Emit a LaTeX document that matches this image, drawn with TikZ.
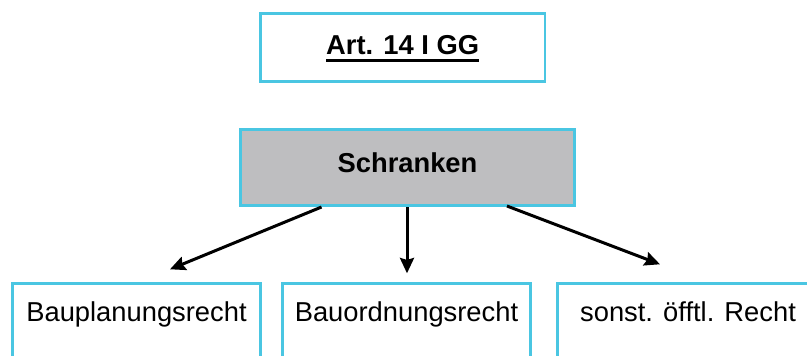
\documentclass[tikz,border=0pt]{standalone}
\usepackage{fontspec}
\setmainfont{Liberation Sans}
\usepackage{tikz}
\usepackage{xcolor}
\usetikzlibrary{arrows.meta,calc}
\definecolor{rahmen}{RGB}{74,198,226}
\definecolor{grau}{RGB}{190,190,192}
\tikzstyle{arr}=[-{Stealth[length=11.5pt,width=10.5pt,inset=1.5pt]},line width=2.25pt]
\newcommand{\ulbold}[1]{\setbox0\hbox{#1}\rlap{\rule[-5.2pt]{\wd0}{2pt}}\box0}

\begin{document}
\begin{tikzpicture}[x=0.75pt,y=0.75pt]
  \tikzstyle kasten=[draw=rahmen,line width=2pt,font=\fontsize{20.5}{24}\selectfont,text height=15pt];
  \tikzstyle unten=[kasten,anchor=north,inner ysep=13.3pt,text depth=45pt];
  \def\h{356}
  \clip (0,0) rectangle (807,\h);

  % upper boxes
  \node[kasten,text depth=3.75pt,minimum width=213.5pt,minimum height=51.3pt]
    (art) at (402.6,\h-47.5) {\bfseries\ulbold{Art. 14 I GG}};
  \node[kasten,fill=grau,text depth=6.75pt,minimum width=250.8pt,minimum height=57.3pt]
    (schr) at (407.5,\h-167.5) {\bfseries Schranken};

  % lower boxes
  \node[unten,minimum width=186.3pt] (bpl) at (136.5,\h-282.3) {Bauplanungsrecht};
  \node[unten,minimum width=186.3pt] (bord) at (406.5,\h-282.3) {Bauordnungsrecht};
  \node[unten,minimum width=196pt] (sonst) at (688,\h-282.3) {sonst. öfftl. Recht};

  % arrows
  \coordinate (e1) at ($(bpl.north)+(33.5,13)$);
  \coordinate (e2) at ($(bord.north)+(0.5,9)$);
  \coordinate (e3) at ($(sonst.north)+(-28,18)$);
  \draw[arr] ($(schr.south)+(-86,0)$) -- (e1);
  \draw[arr] ($(schr.south)+(-0.5,0)$) -- (e2);
  \draw[arr] ($(schr.south)+(99.5,1)$) -- (e3);
\end{tikzpicture}
\end{document}
